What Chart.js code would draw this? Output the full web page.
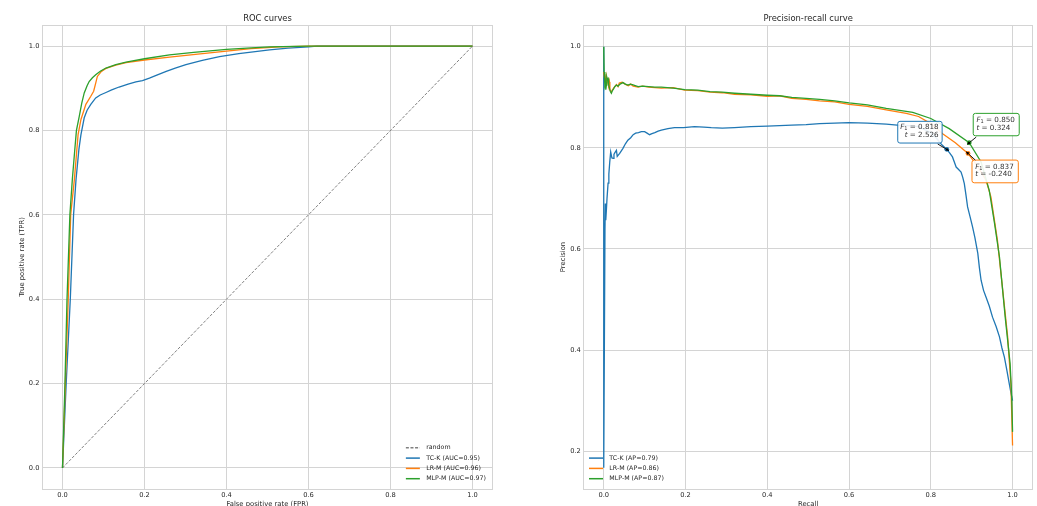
<!DOCTYPE html>
<html><head><meta charset="utf-8">
<script src="https://cdn.jsdelivr.net/npm/chart.js@4.4.1/dist/chart.umd.min.js"></script>
<style>
html,body{margin:0;padding:0;background:#fff;overflow:hidden;width:1037px;height:506px;}
#c1{position:absolute;left:0;top:0;}
#c2{position:absolute;left:518px;top:0;}
</style></head><body>
<canvas id="c1" width="518" height="520"></canvas>
<canvas id="c2" width="519" height="520"></canvas>
<script>
// ---------- data ----------
const xTicks = [0, 0.2, 0.4, 0.6, 0.8, 1.0];
const rocYTicks = [0, 0.2, 0.4, 0.6, 0.8, 1.0];
const prYTicks = [0.2, 0.4, 0.6, 0.8, 1.0];
const seriesNames = ['TC-K', 'LR-M', 'MLP-M'];
const aucValues = [0.95, 0.96, 0.97];
const apValues = [0.79, 0.86, 0.87];

const randomFpr = [0, 1];
const randomTpr = [0, 1];

const rocTcKFpr = [0,0.009,0.019,0.027,0.033,0.040,0.045,0.053,0.060,0.069,0.081,0.092,0.106,0.120,0.138,0.160,0.179,0.195,0.212,0.230,0.253,0.275,0.301,0.341,0.383,0.430,0.470,0.505,0.550,0.600,0.620,1.0];
const rocTcKTpr = [0,0.2,0.4,0.6,0.684,0.755,0.79,0.83,0.848,0.862,0.877,0.884,0.89,0.896,0.903,0.91,0.915,0.918,0.924,0.931,0.94,0.948,0.956,0.966,0.975,0.982,0.987,0.991,0.995,0.998,1.0,1.0];

const rocLrMFpr = [0,0.007,0.014,0.020,0.029,0.035,0.038,0.045,0.057,0.069,0.076,0.081,0.085,0.095,0.106,0.130,0.155,0.200,0.261,0.330,0.400,0.460,0.529,0.600,1.0];
const rocLrMTpr = [0,0.2,0.4,0.6,0.684,0.755,0.79,0.826,0.862,0.881,0.893,0.912,0.928,0.940,0.947,0.955,0.961,0.967,0.974,0.981,0.988,0.994,0.998,1.0,1.0];

const rocMlpMFpr = [0,0.006,0.011,0.018,0.024,0.030,0.034,0.041,0.047,0.053,0.060,0.065,0.073,0.081,0.093,0.106,0.130,0.155,0.200,0.261,0.320,0.400,0.460,0.505,0.600,1.0];
const rocMlpMTpr = [0,0.2,0.4,0.6,0.684,0.755,0.80,0.834,0.865,0.889,0.906,0.916,0.925,0.932,0.941,0.948,0.956,0.962,0.970,0.979,0.985,0.992,0.996,0.998,1.0,1.0];

const prTcKRecall = [0,0,0.003,0.004,0.005,0.0065,0.008,0.0106,0.0125,0.0147,0.017,0.020,0.023,0.025,0.027,0.031,0.033,0.035,0.039,0.043,0.047,0.053,0.059,0.066,0.072,0.078,0.085,0.092,0.100,0.106,0.112,0.118,0.125,0.133,0.141,0.157,0.173,0.195,0.222,0.245,0.263,0.290,0.320,0.360,0.400,0.430,0.460,0.495,0.528,0.565,0.600,0.645,0.691,0.718,0.745,0.770,0.800,0.815,0.827,0.839,0.846,0.853,0.858,0.862,0.868,0.874,0.878,0.882,0.886,0.890,0.896,0.902,0.908,0.915,0.919,0.923,0.929,0.935,0.943,0.951,0.960,0.968,0.974,0.980,0.986,0.992,0.998,1.0];
const prTcKPrecision = [1.0,0.167,0.64,0.69,0.657,0.677,0.70,0.73,0.748,0.772,0.792,0.78,0.779,0.787,0.79,0.795,0.783,0.785,0.789,0.794,0.799,0.808,0.815,0.820,0.826,0.829,0.830,0.832,0.832,0.829,0.826,0.828,0.830,0.833,0.835,0.838,0.840,0.840,0.842,0.841,0.840,0.839,0.840,0.842,0.843,0.844,0.845,0.846,0.848,0.849,0.850,0.849,0.847,0.845,0.844,0.842,0.830,0.818,0.806,0.797,0.790,0.782,0.771,0.762,0.757,0.752,0.742,0.729,0.707,0.683,0.664,0.644,0.622,0.591,0.562,0.538,0.518,0.505,0.487,0.465,0.446,0.426,0.404,0.386,0.360,0.333,0.307,0.300];

const prLrMRecall = [0,0.001,0.002,0.003,0.004,0.005,0.006,0.007,0.008,0.010,0.012,0.014,0.015,0.018,0.021,0.024,0.028,0.031,0.035,0.038,0.045,0.052,0.060,0.066,0.072,0.084,0.095,0.110,0.125,0.141,0.170,0.198,0.230,0.260,0.290,0.320,0.360,0.400,0.430,0.460,0.495,0.528,0.565,0.600,0.645,0.691,0.740,0.770,0.800,0.829,0.860,0.891,0.915,0.935,0.947,0.963,0.976,0.988,0.996,1.0];
const prLrMPrecision = [0.95,0.944,0.936,0.946,0.928,0.935,0.940,0.925,0.932,0.938,0.922,0.930,0.915,0.910,0.914,0.918,0.922,0.925,0.921,0.928,0.930,0.926,0.923,0.926,0.922,0.920,0.922,0.920,0.919,0.918,0.919,0.914,0.913,0.910,0.909,0.906,0.905,0.902,0.903,0.898,0.896,0.893,0.891,0.886,0.882,0.875,0.868,0.862,0.848,0.828,0.810,0.789,0.763,0.736,0.703,0.617,0.518,0.426,0.333,0.211];

const prMlpMRecall = [0,0.001,0.0024,0.003,0.004,0.005,0.0065,0.0075,0.009,0.0106,0.012,0.014,0.016,0.0187,0.021,0.023,0.027,0.031,0.035,0.040,0.047,0.053,0.059,0.065,0.070,0.084,0.095,0.110,0.125,0.141,0.170,0.198,0.230,0.260,0.290,0.320,0.360,0.400,0.430,0.460,0.495,0.528,0.565,0.600,0.645,0.691,0.756,0.800,0.845,0.894,0.923,0.943,0.956,0.968,0.982,0.994,0.998,1.0];
const prMlpMPrecision = [1.0,0.95,0.944,0.925,0.93,0.915,0.924,0.940,0.935,0.937,0.925,0.918,0.912,0.908,0.913,0.915,0.921,0.924,0.922,0.926,0.929,0.926,0.924,0.926,0.925,0.921,0.922,0.921,0.920,0.920,0.918,0.915,0.914,0.911,0.910,0.908,0.906,0.904,0.903,0.900,0.898,0.896,0.893,0.889,0.885,0.878,0.870,0.858,0.838,0.810,0.772,0.716,0.650,0.584,0.465,0.373,0.307,0.238];

const bestRecall = [0.839, 0.891, 0.894];
const bestPrecision = [0.797, 0.789, 0.810];
const bestF1 = [0.818, 0.837, 0.850];
const bestThreshold = [2.526, -0.240, 0.324];

// ---------- style ----------
const COLORS = ['#1f77b4', '#ff7f0e', '#2ca02c'];
const GRID = '#d4d4d4';
const TEXT = '#262626';
const FAM = '"DejaVu Sans", sans-serif';
const LW = 1.3;

const pts = (xs, ys) => xs.map((x, i) => ({x, y: ys[i]}));

function curve(label, xs, ys, color, order, dash) {
  return {label, data: pts(xs, ys), showLine: true, borderColor: color, backgroundColor: color,
    borderWidth: LW, pointRadius: 0, pointHoverRadius: 0, tension: 0, order,
    borderDash: dash || [], inLegend: true, clip: false};
}

function decoPlugin(cfg) {
  return {
    id: 'deco' + cfg.key,
    beforeDatasetsDraw(chart) {
      const {ctx, chartArea: a} = chart;
      ctx.save();
      ctx.strokeStyle = GRID; ctx.lineWidth = 1;
      ctx.strokeRect(Math.round(a.left) + 0.5, Math.round(a.top) + 0.5, Math.round(a.right - a.left) - 1, Math.round(a.bottom - a.top));
      ctx.restore();
    },
    afterDraw(chart) {
      const {ctx, chartArea: a} = chart;
      ctx.save();
      ctx.fillStyle = TEXT;
      ctx.font = `8.4px ${FAM}`;
      ctx.textAlign = 'center'; ctx.textBaseline = 'middle';
      ctx.fillText(cfg.title, (a.left + a.right) / 2, 18.6);
      const items = chart.data.datasets.filter(d => d.inLegend);
      ctx.font = `6.3px ${FAM}`;
      ctx.textAlign = 'left';
      const maxW = Math.max(...items.map(d => ctx.measureText(d.label).width));
      let x0;
      if (cfg.legend === 'right') x0 = a.right - 7 - maxW - 20.3;
      else x0 = a.left + 5.7;
      const rowH = 10.3;
      items.forEach((d, i) => {
        const y = a.bottom - 10.3 - (items.length - 1 - i) * rowH;
        ctx.strokeStyle = d.borderColor; ctx.lineWidth = LW + 0.2;
        ctx.setLineDash(d.borderDash && d.borderDash.length ? [3, 1.6] : []);
        ctx.beginPath(); ctx.moveTo(x0, y); ctx.lineTo(x0 + 14, y); ctx.stroke();
        ctx.setLineDash([]);
        ctx.fillStyle = TEXT;
        ctx.fillText(d.label, x0 + 20.3, y);
      });
      if (cfg.annotate) cfg.annotate(chart, ctx);
      ctx.restore();
    }
  };
}

function axisOpts(ticksArr, min, max, title, titlePad, extra) {
  return Object.assign({
    type: 'linear', min, max,
    afterBuildTicks: s => { s.ticks = ticksArr.map(v => ({value: v})); },
    ticks: {callback: v => Number(v).toFixed(1), font: {family: FAM, size: 6.7}, color: TEXT, autoSkip: false, maxRotation: 0, padding: 2.5},
    grid: {color: GRID, lineWidth: 1, drawTicks: false},
    border: {display: false},
    title: {display: true, text: title, font: {family: FAM, size: 6.8}, color: TEXT, padding: titlePad}
  }, extra);
}

// ---------- annotations ----------
function drawLabelLine(ctx, parts, x, y, align, fs) {
  const fontFor = p => p.style === 'i' ? `italic ${fs}px ${FAM}` : p.style === 'sub' ? `${fs * 0.7}px ${FAM}` : `${fs}px ${FAM}`;
  let total = 0;
  parts.forEach(p => { ctx.font = fontFor(p); p.w = ctx.measureText(p.t).width; total += p.w; });
  let cx = align === 'right' ? x - total : x;
  ctx.textAlign = 'left'; ctx.textBaseline = 'middle';
  parts.forEach(p => { ctx.font = fontFor(p); ctx.fillText(p.t, cx, p.style === 'sub' ? y + 1.6 : y); cx += p.w; });
}

function arrow(ctx, x1, y1, x2, y2) {
  ctx.strokeStyle = '#000'; ctx.fillStyle = '#000'; ctx.lineWidth = 0.9;
  ctx.beginPath(); ctx.moveTo(x1, y1); ctx.lineTo(x2, y2); ctx.stroke();
  const ang = Math.atan2(y2 - y1, x2 - x1), L = 3.2, W = 1.6;
  ctx.beginPath();
  ctx.moveTo(x2, y2);
  ctx.lineTo(x2 - L * Math.cos(ang) + W * Math.sin(ang), y2 - L * Math.sin(ang) - W * Math.cos(ang));
  ctx.lineTo(x2 - L * Math.cos(ang) - W * Math.sin(ang), y2 - L * Math.sin(ang) + W * Math.cos(ang));
  ctx.closePath(); ctx.fill();
}

function roundRect(ctx, x, y, w, h, r) {
  ctx.beginPath();
  ctx.moveTo(x + r, y); ctx.lineTo(x + w - r, y); ctx.quadraticCurveTo(x + w, y, x + w, y + r);
  ctx.lineTo(x + w, y + h - r); ctx.quadraticCurveTo(x + w, y + h, x + w - r, y + h);
  ctx.lineTo(x + r, y + h); ctx.quadraticCurveTo(x, y + h, x, y + h - r);
  ctx.lineTo(x, y + r); ctx.quadraticCurveTo(x, y, x + r, y); ctx.closePath();
}

const annoLayout = [
  {bx: -49, by: -28, bw: 44.4, bh: 21.7, align: 'right', tx: 40.9, ty1: 6.2, ty2: 14, ax: -9, ay: -5.3},
  {bx: 4, by: 6.7, bw: 46.3, bh: 22.7, align: 'left', tx: 3.2, ty1: 6.7, ty2: 14.3, ax: 7.3, ay: 6.7},
  {bx: 4, by: -29.4, bw: 46, bh: 22.4, align: 'left', tx: 3.2, ty1: 6.7, ty2: 14.3, ax: 7, ay: -5.7}
];

function annotatePR(chart, ctx) {
  const xs = chart.scales.x, ys = chart.scales.y;
  bestRecall.forEach((r, i) => {
    const px = xs.getPixelForValue(r), py = ys.getPixelForValue(bestPrecision[i]);
    const L = annoLayout[i];
    const bx = px + L.bx, by = py + L.by;
    ctx.save();
    roundRect(ctx, bx, by, L.bw, L.bh, 2.2);
    ctx.fillStyle = 'rgba(255,255,255,0.9)'; ctx.fill();
    ctx.strokeStyle = COLORS[i]; ctx.lineWidth = 1; ctx.stroke();
    ctx.fillStyle = '#333';
    const tx = bx + L.tx;
    drawLabelLine(ctx, [{t: 'F', style: 'i'}, {t: '1', style: 'sub'}, {t: ' = ' + bestF1[i].toFixed(3), style: 'n'}], tx, by + L.ty1, L.align, 7.2);
    drawLabelLine(ctx, [{t: 't', style: 'i'}, {t: ' = ' + bestThreshold[i].toFixed(3), style: 'n'}], tx, by + L.ty2, L.align, 7.2);
    const ang = Math.atan2(-L.ay, -L.ax);
    arrow(ctx, px + L.ax, py + L.ay, px + 2.6 * Math.cos(ang), py + 2.6 * Math.sin(ang));
    ctx.restore();
  });
}

// ---------- ROC chart ----------
const rocDatasets = [
  curve('random', randomFpr, randomTpr, '#808080', 4, [3, 1.6]),
  curve(`${seriesNames[0]} (AUC=${aucValues[0].toFixed(2)})`, rocTcKFpr, rocTcKTpr, COLORS[0], 3),
  curve(`${seriesNames[1]} (AUC=${aucValues[1].toFixed(2)})`, rocLrMFpr, rocLrMTpr, COLORS[1], 2),
  curve(`${seriesNames[2]} (AUC=${aucValues[2].toFixed(2)})`, rocMlpMFpr, rocMlpMTpr, COLORS[2], 1)
];
rocDatasets[0].borderWidth = 1;

new Chart(document.getElementById('c1'), {
  type: 'scatter',
  data: {datasets: rocDatasets},
  options: {
    responsive: false, animation: false, devicePixelRatio: 1, events: [],
    layout: {padding: {left: 0, right: 25, top: 25, bottom: 0}},
    plugins: {legend: {display: false}, tooltip: {enabled: false}, title: {display: false}},
    scales: {
      x: axisOpts(xTicks, -0.05, 1.05, 'False positive rate (FPR)', {top: 0, bottom: 12}, {
        afterFit: s => { s.height = 31; }
      }),
      y: axisOpts(rocYTicks, -0.05, 1.05, 'True positive rate (TPR)', {top: 17.9, bottom: 0}, {
        afterFit: s => { s.width = 42; }
      })
    }
  },
  plugins: [decoPlugin({key: 'roc', title: 'ROC curves', legend: 'right'})]
});

// ---------- PR chart ----------
const prDatasets = [
  curve(`${seriesNames[0]} (AP=${apValues[0].toFixed(2)})`, prTcKRecall, prTcKPrecision, COLORS[0], 3),
  curve(`${seriesNames[1]} (AP=${apValues[1].toFixed(2)})`, prLrMRecall, prLrMPrecision, COLORS[1], 2),
  curve(`${seriesNames[2]} (AP=${apValues[2].toFixed(2)})`, prMlpMRecall, prMlpMPrecision, COLORS[2], 1)
];
seriesNames.forEach((n, i) => {
  prDatasets.push({label: n + ' best F1', data: [{x: bestRecall[i], y: bestPrecision[i]}], pointRadius: 2.4,
    pointBackgroundColor: COLORS[i], pointBorderWidth: 0, showLine: false, order: 0, inLegend: false, clip: false});
});

new Chart(document.getElementById('c2'), {
  type: 'scatter',
  data: {datasets: prDatasets},
  options: {
    responsive: false, animation: false, devicePixelRatio: 1, events: [],
    layout: {padding: {left: 0, right: 4, top: 25, bottom: 0}},
    plugins: {legend: {display: false}, tooltip: {enabled: false}, title: {display: false}},
    scales: {
      x: axisOpts(xTicks, -0.05, 1.05, 'Recall', {top: 0, bottom: 12}, {
        afterFit: s => { s.height = 31; }
      }),
      y: axisOpts(prYTicks, 0.125, 1.043, 'Precision', {top: 40.9, bottom: 0}, {
        afterFit: s => { s.width = 65.3; }
      })
    }
  },
  plugins: [decoPlugin({key: 'pr', title: 'Precision-recall curve', legend: 'left', annotate: annotatePR})]
});
</script>
</body></html>
